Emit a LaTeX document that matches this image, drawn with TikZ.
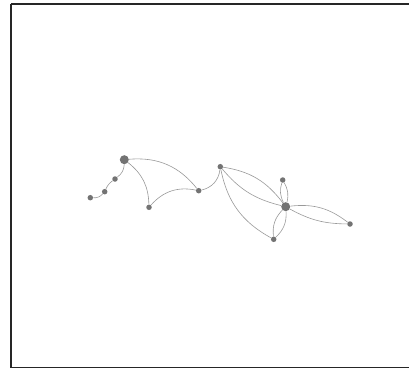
\documentclass[tikz,border=0pt]{standalone}
\begin{document}
\begin{tikzpicture}[x=1pt,y=-1pt,
  big/.style={circle,fill=black!55,inner sep=0pt,minimum size=9pt},
  small/.style={circle,fill=black!55,inner sep=0pt,minimum size=5.5pt},
  edge/.style={draw=black!40,line width=0.6pt}]
\useasboundingbox (0,0) rectangle (409,370);
\draw[line width=1.6pt,black!85] (10.8,4.2) -- (412,4.2);
\draw[line width=1.6pt,black!85] (10.8,4.2) -- (10.8,367.5) -- (412,367.5);
\node[big] (A) at (124.3,159.7) {};
\node[small] (s1) at (115,179) {};
\node[small] (s2) at (104.7,191.7) {};
\node[small] (s3) at (90.3,197.7) {};
\node[small] (B) at (149,207.3) {};
\node[small] (C) at (198.7,190.7) {};
\node[small] (D) at (220.3,166.7) {};
\node[big] (E) at (285.7,206.7) {};
\node[small] (F) at (282.7,180) {};
\node[small] (G) at (273.7,239.3) {};
\node[small] (H) at (350,224) {};
\path[edge] (s3) to[bend right=25] (s2);
\path[edge] (s2) to[bend left=15] (s1);
\path[edge] (s1) to[bend right=25] (A);
\path[edge] (A) to[bend left=25] (B);
\path[edge] (A) to[bend left=28] (C);
\path[edge] (B) to[bend left=30] (C);
\path[edge] (C) to[bend right=35] (D);
\path[edge] (D) to[bend left=22] (E);
\path[edge] (D) to[bend right=18] (E);
\path[edge] (D) to[bend right=25] (G);
\path[edge] (E) to[bend left=22] (F);
\path[edge] (E) to[bend right=22] (F);
\path[edge] (E) to[bend left=25] (G);
\path[edge] (E) to[bend right=25] (G);
\path[edge] (E) to[bend left=22] (H);
\path[edge] (E) to[bend right=14] (H);
\end{tikzpicture}
\end{document}
